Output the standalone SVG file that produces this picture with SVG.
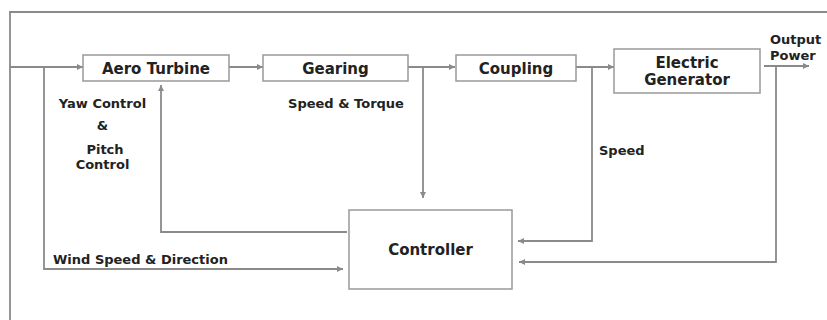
<svg xmlns="http://www.w3.org/2000/svg" width="827" height="320" viewBox="0 0 827 320">
<style>
.box{fill:#fff;stroke:#999;stroke-width:1.5}
.ln{fill:none;stroke:#8a8a8a;stroke-width:1.8}
.t{font-family:"DejaVu Sans",sans-serif;font-weight:bold;fill:#222}
.big{font-size:15px;text-anchor:middle}
.sm{font-size:13px}
</style>
<defs>
<marker id="ah" viewBox="0 0 10 10" refX="10" refY="5" markerWidth="7" markerHeight="6" markerUnits="userSpaceOnUse" orient="auto">
<path d="M0,0 L10,5 L0,10 z" fill="#8a8a8a"/>
</marker>
</defs>
<rect width="827" height="320" fill="#fff"/>
<path class="ln" d="M10,320 V12 H827" stroke="#aaa" stroke-width="1.2"/>
<g id="connectors">
<path class="ln" d="M10,67 H83" marker-end="url(#ah)"/>
<path class="ln" d="M44,67 V269 H343" marker-end="url(#ah)"/>
<path class="ln" d="M229,67 H263" marker-end="url(#ah)"/>
<path class="ln" d="M408,67 H455" marker-end="url(#ah)"/>
<path class="ln" d="M423,67 V198" marker-end="url(#ah)"/>
<path class="ln" d="M576,67 H614" marker-end="url(#ah)"/>
<path class="ln" d="M592,67 V241 H518" marker-end="url(#ah)"/>
<path class="ln" d="M764,66 H809" marker-end="url(#ah)"/>
<path class="ln" d="M776,66 V262 H519" marker-end="url(#ah)"/>
<path class="ln" d="M347,232 H161 V85" marker-end="url(#ah)"/>
</g>
<g id="aero-turbine">
<rect class="box" x="83" y="55" width="146" height="26"/>
<text class="t big" x="156" y="74">Aero Turbine</text>
</g>
<g id="gearing">
<rect class="box" x="263" y="55" width="145" height="26"/>
<text class="t big" x="335.5" y="74">Gearing</text>
</g>
<g id="coupling">
<rect class="box" x="456" y="55" width="120" height="26"/>
<text class="t big" x="516" y="74">Coupling</text>
</g>
<g id="electric-generator">
<rect class="box" x="614" y="49" width="146" height="44"/>
<text class="t big" x="687" y="67.5">Electric</text>
<text class="t big" x="687" y="85">Generator</text>
</g>
<g id="controller">
<rect class="box" x="349" y="210" width="163" height="79"/>
<text class="t big" x="430.5" y="255">Controller</text>
</g>
<g id="labels">
<text class="t sm" x="770" y="44">Output</text>
<text class="t sm" x="770" y="60">Power</text>
<text class="t sm" x="102.5" y="108" text-anchor="middle">Yaw Control</text>
<text class="t sm" x="102.5" y="130" text-anchor="middle">&amp;</text>
<text class="t sm" x="105" y="154" text-anchor="middle">Pitch</text>
<text class="t sm" x="102.5" y="169" text-anchor="middle">Control</text>
<text class="t sm" x="346" y="108" text-anchor="middle">Speed &amp; Torque</text>
<text class="t sm" x="599" y="155">Speed</text>
<text class="t sm" x="53" y="264">Wind Speed &amp; Direction</text>
</g>
</svg>
